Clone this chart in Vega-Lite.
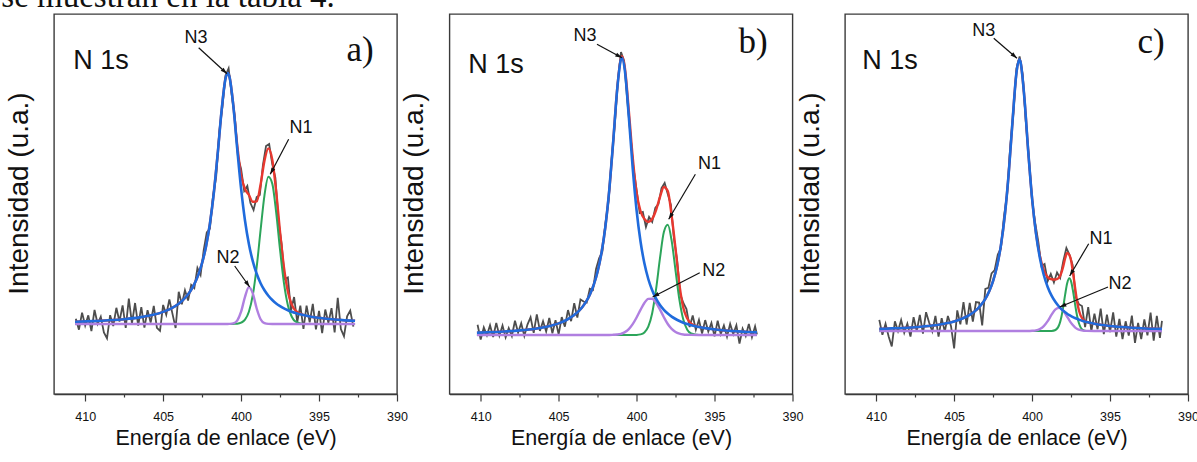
{
"$schema": "https://vega.github.io/schema/vega-lite/v6.json",
"padding": {"left": 1, "top": -19, "right": 0, "bottom": 0},
"background": "white",
"title": {"text": "se muestran en la tabla 4.", "anchor": "start", "frame": "bounds", "font": "Liberation Serif", "fontSize": 33, "fontWeight": "normal", "color": "#111111", "baseline": "alphabetic", "offset": -27, "dx": -3},
"data": {"values": [
{"p":"a","k":"f","E":410.65,"n3":72.2,"n1":70,"n2":70,"r":72.2},
{"p":"a","k":"f","E":409.5,"n3":72.9,"n1":70,"n2":70,"r":72.9},
{"p":"a","k":"f","E":408.5,"n3":73.7,"n1":70,"n2":70,"r":73.7},
{"p":"a","k":"f","E":407.5,"n3":74.8,"n1":70,"n2":70,"r":74.8},
{"p":"a","k":"f","E":406.5,"n3":76.6,"n1":70,"n2":70,"r":76.6},
{"p":"a","k":"f","E":405.5,"n3":79.7,"n1":70,"n2":70,"r":79.7},
{"p":"a","k":"f","E":405,"n3":82.1,"n1":70,"n2":70,"r":82.1},
{"p":"a","k":"f","E":404.5,"n3":85.4,"n1":70,"n2":70,"r":85.4},
{"p":"a","k":"f","E":404,"n3":90.2,"n1":70,"n2":70,"r":90.2},
{"p":"a","k":"f","E":403.5,"n3":97.7,"n1":70,"n2":70,"r":97.7},
{"p":"a","k":"f","E":403.25,"n3":103,"n1":70,"n2":70,"r":103},
{"p":"a","k":"f","E":403,"n3":109.9,"n1":70,"n2":70,"r":109.9},
{"p":"a","k":"f","E":402.75,"n3":118.9,"n1":70,"n2":70,"r":118.9},
{"p":"a","k":"f","E":402.5,"n3":131.1,"n1":70,"n2":70,"r":131.1},
{"p":"a","k":"f","E":402.25,"n3":147.6,"n1":70,"n2":70,"r":147.6},
{"p":"a","k":"f","E":402,"n3":170.3,"n1":70,"n2":70,"r":170.3},
{"p":"a","k":"f","E":401.75,"n3":201,"n1":70,"n2":70,"r":201},
{"p":"a","k":"f","E":401.5,"n3":240.3,"n1":70,"n2":70,"r":240.3},
{"p":"a","k":"f","E":401.25,"n3":283.5,"n1":70,"n2":70,"r":283.5},
{"p":"a","k":"f","E":401,"n3":315.4,"n1":70,"n2":70,"r":315.4},
{"p":"a","k":"f","E":400.86,"n3":321,"n1":70,"n2":70,"r":321},
{"p":"a","k":"f","E":400.75,"n3":317.5,"n1":70,"n2":70.1,"r":317.6},
{"p":"a","k":"f","E":400.5,"n3":288.3,"n1":70.1,"n2":70.6,"r":289},
{"p":"a","k":"f","E":400.25,"n3":245.5,"n1":70.3,"n2":73.4,"r":249.2},
{"p":"a","k":"f","E":400,"n3":205.3,"n1":71.3,"n2":82.3,"r":218.9},
{"p":"a","k":"f","E":399.75,"n3":173.5,"n1":74.3,"n2":97.2,"r":205},
{"p":"a","k":"f","E":399.5,"n3":150,"n1":82.2,"n2":106.9,"r":199.1},
{"p":"a","k":"f","E":399.25,"n3":132.8,"n1":98.8,"n2":100.6,"r":192.2},
{"p":"a","k":"f","E":399,"n3":120.2,"n1":127,"n2":85.5,"r":192.7},
{"p":"a","k":"f","E":398.75,"n3":110.8,"n1":163.8,"n2":74.8,"r":209.4},
{"p":"a","k":"f","E":398.5,"n3":103.7,"n1":198.7,"n2":70.9,"r":233.3},
{"p":"a","k":"f","E":398.25,"n3":98.3,"n1":217.2,"n2":70.1,"r":245.6},
{"p":"a","k":"f","E":398,"n3":94,"n1":210.4,"n2":70,"r":234.4},
{"p":"a","k":"f","E":397.75,"n3":90.6,"n1":181.7,"n2":70,"r":202.3},
{"p":"a","k":"f","E":397.5,"n3":87.9,"n1":144,"n2":70,"r":161.9},
{"p":"a","k":"f","E":397.25,"n3":85.6,"n1":110.9,"n2":70,"r":126.5},
{"p":"a","k":"f","E":397,"n3":83.8,"n1":88.8,"n2":70,"r":102.6},
{"p":"a","k":"f","E":396.75,"n3":82.2,"n1":77.2,"n2":70,"r":89.4},
{"p":"a","k":"f","E":396.5,"n3":80.9,"n1":72.3,"n2":70,"r":83.2},
{"p":"a","k":"f","E":396,"n3":78.9,"n1":70.1,"n2":70,"r":79},
{"p":"a","k":"f","E":395.5,"n3":77.3,"n1":70,"n2":70,"r":77.3},
{"p":"a","k":"f","E":395,"n3":76.2,"n1":70,"n2":70,"r":76.2},
{"p":"a","k":"f","E":394.5,"n3":75.3,"n1":70,"n2":70,"r":75.3},
{"p":"a","k":"f","E":394,"n3":74.5,"n1":70,"n2":70,"r":74.5},
{"p":"a","k":"f","E":393.5,"n3":73.9,"n1":70,"n2":70,"r":73.9},
{"p":"a","k":"f","E":392.69,"n3":73.2,"n1":70,"n2":70,"r":73.2},
{"p":"b","k":"f","E":410.24,"n3":61.3,"n1":59,"n2":59,"r":61.3},
{"p":"b","k":"f","E":409.5,"n3":61.7,"n1":59,"n2":59,"r":61.7},
{"p":"b","k":"f","E":408.5,"n3":62.5,"n1":59,"n2":59,"r":62.5},
{"p":"b","k":"f","E":407.5,"n3":63.6,"n1":59,"n2":59,"r":63.6},
{"p":"b","k":"f","E":406.5,"n3":65.3,"n1":59,"n2":59,"r":65.3},
{"p":"b","k":"f","E":405.5,"n3":68.3,"n1":59,"n2":59,"r":68.3},
{"p":"b","k":"f","E":405,"n3":70.6,"n1":59,"n2":59,"r":70.6},
{"p":"b","k":"f","E":404.5,"n3":74,"n1":59,"n2":59,"r":74},
{"p":"b","k":"f","E":404,"n3":78.9,"n1":59,"n2":59,"r":78.9},
{"p":"b","k":"f","E":403.5,"n3":86.5,"n1":59,"n2":59,"r":86.5},
{"p":"b","k":"f","E":403.25,"n3":92.1,"n1":59,"n2":59,"r":92.1},
{"p":"b","k":"f","E":403,"n3":99.3,"n1":59,"n2":59,"r":99.3},
{"p":"b","k":"f","E":402.75,"n3":109.1,"n1":59,"n2":59,"r":109.1},
{"p":"b","k":"f","E":402.5,"n3":122.5,"n1":59,"n2":59,"r":122.5},
{"p":"b","k":"f","E":402.25,"n3":141.2,"n1":59,"n2":59,"r":141.2},
{"p":"b","k":"f","E":402,"n3":167.5,"n1":59,"n2":59,"r":167.5},
{"p":"b","k":"f","E":401.75,"n3":204.3,"n1":59,"n2":59,"r":204.3},
{"p":"b","k":"f","E":401.5,"n3":252.4,"n1":59,"n2":59.2,"r":252.6},
{"p":"b","k":"f","E":401.25,"n3":303.7,"n1":59,"n2":59.5,"r":304.2},
{"p":"b","k":"f","E":401,"n3":334.9,"n1":59,"n2":60.2,"r":336.1},
{"p":"b","k":"f","E":400.94,"n3":336.3,"n1":59,"n2":60.5,"r":337.8},
{"p":"b","k":"f","E":400.75,"n3":323.1,"n1":59,"n2":61.9,"r":326},
{"p":"b","k":"f","E":400.5,"n3":277.7,"n1":59,"n2":64.9,"r":283.6},
{"p":"b","k":"f","E":400.25,"n3":226.2,"n1":59,"n2":69.8,"r":237},
{"p":"b","k":"f","E":400,"n3":183.7,"n1":59.1,"n2":76.5,"r":201.3},
{"p":"b","k":"f","E":399.75,"n3":152.7,"n1":59.6,"n2":84.1,"r":183},
{"p":"b","k":"f","E":399.5,"n3":130.7,"n1":61.5,"n2":91,"r":175},
{"p":"b","k":"f","E":399.25,"n3":115,"n1":67.3,"n2":95.1,"r":172},
{"p":"b","k":"f","E":399,"n3":103.7,"n1":80.8,"n2":95.2,"r":175},
{"p":"b","k":"f","E":398.75,"n3":95.3,"n1":104.8,"n2":91.2,"r":184},
{"p":"b","k":"f","E":398.5,"n3":89,"n1":135.8,"n2":84.4,"r":197},
{"p":"b","k":"f","E":398.25,"n3":84.2,"n1":162,"n2":76.8,"r":207},
{"p":"b","k":"f","E":398,"n3":80.4,"n1":169.2,"n2":70,"r":203},
{"p":"b","k":"f","E":397.75,"n3":77.4,"n1":153.1,"n2":65.1,"r":178},
{"p":"b","k":"f","E":397.5,"n3":75,"n1":123.2,"n2":62,"r":145},
{"p":"b","k":"f","E":397.25,"n3":73,"n1":93.9,"n2":60.3,"r":109},
{"p":"b","k":"f","E":397,"n3":71.3,"n1":74.2,"n2":59.5,"r":86},
{"p":"b","k":"f","E":396.75,"n3":70,"n1":64.3,"n2":59.2,"r":75.5},
{"p":"b","k":"f","E":396.5,"n3":68.8,"n1":60.5,"n2":59.1,"r":70.4},
{"p":"b","k":"f","E":396,"n3":67,"n1":59.1,"n2":59,"r":67.1},
{"p":"b","k":"f","E":395.5,"n3":65.6,"n1":59,"n2":59,"r":65.6},
{"p":"b","k":"f","E":395,"n3":64.6,"n1":59,"n2":59,"r":64.6},
{"p":"b","k":"f","E":394.5,"n3":63.7,"n1":59,"n2":59,"r":63.7},
{"p":"b","k":"f","E":394,"n3":63.1,"n1":59,"n2":59,"r":63.1},
{"p":"b","k":"f","E":393.5,"n3":62.6,"n1":59,"n2":59,"r":62.6},
{"p":"b","k":"f","E":392.28,"n3":61.6,"n1":59,"n2":59,"r":61.6},
{"p":"c","k":"f","E":409.8,"n3":65.1,"n1":63,"n2":63,"r":65.1},
{"p":"c","k":"f","E":409,"n3":65.6,"n1":63,"n2":63,"r":65.6},
{"p":"c","k":"f","E":408,"n3":66.3,"n1":63,"n2":63,"r":66.3},
{"p":"c","k":"f","E":407,"n3":67.5,"n1":63,"n2":63,"r":67.5},
{"p":"c","k":"f","E":406,"n3":69.3,"n1":63,"n2":63,"r":69.3},
{"p":"c","k":"f","E":405.5,"n3":70.7,"n1":63,"n2":63,"r":70.7},
{"p":"c","k":"f","E":405,"n3":72.6,"n1":63,"n2":63,"r":72.6},
{"p":"c","k":"f","E":404.5,"n3":75.3,"n1":63,"n2":63,"r":75.3},
{"p":"c","k":"f","E":404,"n3":79.2,"n1":63,"n2":63,"r":79.2},
{"p":"c","k":"f","E":403.5,"n3":85.2,"n1":63,"n2":63,"r":85.2},
{"p":"c","k":"f","E":403.25,"n3":89.6,"n1":63,"n2":63,"r":89.6},
{"p":"c","k":"f","E":403,"n3":95.2,"n1":63,"n2":63,"r":95.2},
{"p":"c","k":"f","E":402.75,"n3":102.8,"n1":63,"n2":63,"r":102.8},
{"p":"c","k":"f","E":402.5,"n3":113.2,"n1":63,"n2":63,"r":113.2},
{"p":"c","k":"f","E":402.25,"n3":127.8,"n1":63,"n2":63,"r":127.8},
{"p":"c","k":"f","E":402,"n3":148.6,"n1":63,"n2":63,"r":148.6},
{"p":"c","k":"f","E":401.75,"n3":178.6,"n1":63,"n2":63,"r":178.6},
{"p":"c","k":"f","E":401.5,"n3":220.7,"n1":63,"n2":63,"r":220.7},
{"p":"c","k":"f","E":401.25,"n3":273.8,"n1":63,"n2":63,"r":273.8},
{"p":"c","k":"f","E":401,"n3":321.6,"n1":63,"n2":63,"r":321.6},
{"p":"c","k":"f","E":400.82,"n3":334.7,"n1":63,"n2":63,"r":334.7},
{"p":"c","k":"f","E":400.75,"n3":332.6,"n1":63,"n2":63,"r":332.6},
{"p":"c","k":"f","E":400.5,"n3":297.2,"n1":63,"n2":63,"r":297.2},
{"p":"c","k":"f","E":400.25,"n3":243.2,"n1":63,"n2":63,"r":243.2},
{"p":"c","k":"f","E":400,"n3":195.5,"n1":63,"n2":63.2,"r":195.7},
{"p":"c","k":"f","E":399.75,"n3":160.4,"n1":63,"n2":63.6,"r":161},
{"p":"c","k":"f","E":399.5,"n3":136,"n1":63,"n2":65,"r":138},
{"p":"c","k":"f","E":399.25,"n3":119,"n1":63,"n2":67.9,"r":123.9},
{"p":"c","k":"f","E":399,"n3":107,"n1":63,"n2":72.9,"r":116.9},
{"p":"c","k":"f","E":398.75,"n3":98.3,"n1":63.1,"n2":79.3,"r":114.7},
{"p":"c","k":"f","E":398.5,"n3":91.9,"n1":64,"n2":84.6,"r":114.5},
{"p":"c","k":"f","E":398.25,"n3":87,"n1":69.6,"n2":86.2,"r":116.8},
{"p":"c","k":"f","E":398.125,"n3":85,"n1":76.8,"n2":85.3,"r":121.1},
{"p":"c","k":"f","E":398,"n3":83.2,"n1":87.4,"n2":83.2,"r":127.8},
{"p":"c","k":"f","E":397.875,"n3":81.7,"n1":99.9,"n2":80.4,"r":136},
{"p":"c","k":"f","E":397.75,"n3":80.3,"n1":110.7,"n2":77.2,"r":141},
{"p":"c","k":"f","E":397.61,"n3":78.9,"n1":115.7,"n2":73.7,"r":139},
{"p":"c","k":"f","E":397.5,"n3":77.9,"n1":112.6,"n2":71.1,"r":133.6},
{"p":"c","k":"f","E":397.375,"n3":76.9,"n1":102.9,"n2":68.7,"r":121.5},
{"p":"c","k":"f","E":397.25,"n3":76,"n1":90.4,"n2":66.7,"r":107.1},
{"p":"c","k":"f","E":397.125,"n3":75.2,"n1":79,"n2":65.3,"r":93.5},
{"p":"c","k":"f","E":397,"n3":74.4,"n1":71,"n2":64.4,"r":83.8},
{"p":"c","k":"f","E":396.75,"n3":73.1,"n1":64.2,"n2":63.4,"r":74.7},
{"p":"c","k":"f","E":396.5,"n3":72,"n1":63.1,"n2":63.1,"r":72.2},
{"p":"c","k":"f","E":396,"n3":70.3,"n1":63,"n2":63,"r":70.3},
{"p":"c","k":"f","E":395.5,"n3":69,"n1":63,"n2":63,"r":69},
{"p":"c","k":"f","E":395,"n3":68,"n1":63,"n2":63,"r":68},
{"p":"c","k":"f","E":394.5,"n3":67.3,"n1":63,"n2":63,"r":67.3},
{"p":"c","k":"f","E":394,"n3":66.7,"n1":63,"n2":63,"r":66.7},
{"p":"c","k":"f","E":393,"n3":65.8,"n1":63,"n2":63,"r":65.8},
{"p":"c","k":"f","E":392,"n3":65.2,"n1":63,"n2":63,"r":65.2},
{"p":"c","k":"f","E":391.67,"n3":65.1,"n1":63,"n2":63,"r":65.1},
{"p":"a","k":"e","E":410.6,"I":75.2},{"p":"a","k":"e","E":410.4,"I":64.3},{"p":"a","k":"e","E":410.2,"I":81.4},{"p":"a","k":"e","E":410.0,"I":68.5},
{"p":"a","k":"e","E":409.8,"I":78.7},{"p":"a","k":"e","E":409.6,"I":62.8},{"p":"a","k":"e","E":409.4,"I":84},{"p":"a","k":"e","E":409.2,"I":70.1},
{"p":"a","k":"e","E":409.0,"I":77.3},{"p":"a","k":"e","E":408.8,"I":61.5},{"p":"a","k":"e","E":408.6,"I":55.6},{"p":"a","k":"e","E":408.4,"I":78.8},
{"p":"a","k":"e","E":408.2,"I":68},{"p":"a","k":"e","E":408.0,"I":86.2},{"p":"a","k":"e","E":407.8,"I":72.5},{"p":"a","k":"e","E":407.6,"I":88.7},
{"p":"a","k":"e","E":407.4,"I":66},{"p":"a","k":"e","E":407.2,"I":95.3},{"p":"a","k":"e","E":407.0,"I":70.6},{"p":"a","k":"e","E":406.8,"I":91},
{"p":"a","k":"e","E":406.6,"I":68.4},{"p":"a","k":"e","E":406.4,"I":86.8},{"p":"a","k":"e","E":406.2,"I":66.3},{"p":"a","k":"e","E":406.0,"I":83.9},
{"p":"a","k":"e","E":405.8,"I":71.5},{"p":"a","k":"e","E":405.6,"I":88.2},{"p":"a","k":"e","E":405.4,"I":66.2},{"p":"a","k":"e","E":405.2,"I":63.1},
{"p":"a","k":"e","E":405.0,"I":89.1},{"p":"a","k":"e","E":404.8,"I":79.3},{"p":"a","k":"e","E":404.6,"I":94.6},{"p":"a","k":"e","E":404.4,"I":80.1},
{"p":"a","k":"e","E":404.2,"I":66},{"p":"a","k":"e","E":404.0,"I":102.2},{"p":"a","k":"e","E":403.8,"I":89.8},{"p":"a","k":"e","E":403.6,"I":103.8},
{"p":"a","k":"e","E":403.4,"I":93.5},{"p":"a","k":"e","E":403.2,"I":109.2},{"p":"a","k":"e","E":403.0,"I":105.9},{"p":"a","k":"e","E":402.8,"I":126},
{"p":"a","k":"e","E":402.6,"I":119},{"p":"a","k":"e","E":402.4,"I":143.5},{"p":"a","k":"e","E":402.2,"I":161.5},{"p":"a","k":"e","E":402.0,"I":165.3},
{"p":"a","k":"e","E":401.8,"I":198},{"p":"a","k":"e","E":401.6,"I":217},{"p":"a","k":"e","E":401.4,"I":262},{"p":"a","k":"e","E":401.2,"I":287},
{"p":"a","k":"e","E":401.0,"I":318.4},{"p":"a","k":"e","E":400.8,"I":325.5},{"p":"a","k":"e","E":400.6,"I":299},{"p":"a","k":"e","E":400.4,"I":277},
{"p":"a","k":"e","E":400.2,"I":237},{"p":"a","k":"e","E":400.0,"I":225},{"p":"a","k":"e","E":399.8,"I":203},{"p":"a","k":"e","E":399.6,"I":208},
{"p":"a","k":"e","E":399.4,"I":191},{"p":"a","k":"e","E":399.2,"I":184},{"p":"a","k":"e","E":399.0,"I":197},{"p":"a","k":"e","E":398.8,"I":199},
{"p":"a","k":"e","E":398.6,"I":229},{"p":"a","k":"e","E":398.4,"I":248},{"p":"a","k":"e","E":398.2,"I":250},{"p":"a","k":"e","E":398.0,"I":230},
{"p":"a","k":"e","E":397.8,"I":216},{"p":"a","k":"e","E":397.6,"I":173},{"p":"a","k":"e","E":397.4,"I":150},{"p":"a","k":"e","E":397.2,"I":115},
{"p":"a","k":"e","E":397.0,"I":116.6},{"p":"a","k":"e","E":396.8,"I":83.5},{"p":"a","k":"e","E":396.6,"I":97},{"p":"a","k":"e","E":396.4,"I":72},
{"p":"a","k":"e","E":396.2,"I":88.3},{"p":"a","k":"e","E":396.0,"I":65},{"p":"a","k":"e","E":395.8,"I":88.3},{"p":"a","k":"e","E":395.6,"I":71.6},
{"p":"a","k":"e","E":395.4,"I":90.1},{"p":"a","k":"e","E":395.2,"I":64.6},{"p":"a","k":"e","E":395.0,"I":83.2},{"p":"a","k":"e","E":394.8,"I":60.8},
{"p":"a","k":"e","E":394.6,"I":84.5},{"p":"a","k":"e","E":394.4,"I":71.1},{"p":"a","k":"e","E":394.2,"I":85.8},{"p":"a","k":"e","E":394.0,"I":61.5},
{"p":"a","k":"e","E":393.8,"I":96.2},{"p":"a","k":"e","E":393.6,"I":65},{"p":"a","k":"e","E":393.4,"I":57.8},{"p":"a","k":"e","E":393.2,"I":77.6},
{"p":"a","k":"e","E":393.0,"I":83.4},{"p":"a","k":"e","E":392.8,"I":67.3},
{"p":"b","k":"e","E":410.2,"I":69.3},{"p":"b","k":"e","E":410.0,"I":54.4},{"p":"b","k":"e","E":409.8,"I":66.5},{"p":"b","k":"e","E":409.6,"I":58.7},
{"p":"b","k":"e","E":409.4,"I":68.8},{"p":"b","k":"e","E":409.2,"I":57},{"p":"b","k":"e","E":409.0,"I":71.1},{"p":"b","k":"e","E":408.8,"I":58.3},
{"p":"b","k":"e","E":408.6,"I":68.4},{"p":"b","k":"e","E":408.4,"I":56.6},{"p":"b","k":"e","E":408.2,"I":65.8},{"p":"b","k":"e","E":408.0,"I":58},
{"p":"b","k":"e","E":407.8,"I":73.3},{"p":"b","k":"e","E":407.6,"I":61.5},{"p":"b","k":"e","E":407.4,"I":70.8},{"p":"b","k":"e","E":407.2,"I":58.1},
{"p":"b","k":"e","E":407.0,"I":69.4},{"p":"b","k":"e","E":406.8,"I":76.8},{"p":"b","k":"e","E":406.6,"I":61.1},{"p":"b","k":"e","E":406.4,"I":79.6},
{"p":"b","k":"e","E":406.2,"I":63.1},{"p":"b","k":"e","E":406.0,"I":72.7},{"p":"b","k":"e","E":405.8,"I":62.4},{"p":"b","k":"e","E":405.6,"I":76},
{"p":"b","k":"e","E":405.4,"I":60.8},{"p":"b","k":"e","E":405.2,"I":73.7},{"p":"b","k":"e","E":405.0,"I":59.6},{"p":"b","k":"e","E":404.8,"I":76.9},
{"p":"b","k":"e","E":404.6,"I":67.3},{"p":"b","k":"e","E":404.4,"I":83.9},{"p":"b","k":"e","E":404.2,"I":72.8},{"p":"b","k":"e","E":404.0,"I":90.9},
{"p":"b","k":"e","E":403.8,"I":76.5},{"p":"b","k":"e","E":403.6,"I":94.6},{"p":"b","k":"e","E":403.4,"I":92.5},{"p":"b","k":"e","E":403.2,"I":91.4},
{"p":"b","k":"e","E":403.0,"I":105.3},{"p":"b","k":"e","E":402.8,"I":104},{"p":"b","k":"e","E":402.6,"I":125},{"p":"b","k":"e","E":402.4,"I":136},
{"p":"b","k":"e","E":402.2,"I":142},{"p":"b","k":"e","E":402.0,"I":170.5},{"p":"b","k":"e","E":401.8,"I":193},{"p":"b","k":"e","E":401.6,"I":235},
{"p":"b","k":"e","E":401.4,"I":269},{"p":"b","k":"e","E":401.2,"I":313},{"p":"b","k":"e","E":401.0,"I":342},{"p":"b","k":"e","E":400.8,"I":333},
{"p":"b","k":"e","E":400.6,"I":294},{"p":"b","k":"e","E":400.4,"I":260},{"p":"b","k":"e","E":400.2,"I":226},{"p":"b","k":"e","E":400.0,"I":204},
{"p":"b","k":"e","E":399.8,"I":181},{"p":"b","k":"e","E":399.6,"I":182},{"p":"b","k":"e","E":399.4,"I":167},{"p":"b","k":"e","E":399.2,"I":177},
{"p":"b","k":"e","E":399.0,"I":172},{"p":"b","k":"e","E":398.8,"I":186},{"p":"b","k":"e","E":398.6,"I":190},{"p":"b","k":"e","E":398.4,"I":206},
{"p":"b","k":"e","E":398.2,"I":211},{"p":"b","k":"e","E":398.0,"I":200},{"p":"b","k":"e","E":397.8,"I":189},{"p":"b","k":"e","E":397.6,"I":155},
{"p":"b","k":"e","E":397.4,"I":134},{"p":"b","k":"e","E":397.2,"I":100},{"p":"b","k":"e","E":397.0,"I":91},{"p":"b","k":"e","E":396.8,"I":85},
{"p":"b","k":"e","E":396.6,"I":67},{"p":"b","k":"e","E":396.4,"I":78.5},{"p":"b","k":"e","E":396.2,"I":64.2},{"p":"b","k":"e","E":396.0,"I":74.1},
{"p":"b","k":"e","E":395.8,"I":60.5},{"p":"b","k":"e","E":395.6,"I":73.9},{"p":"b","k":"e","E":395.4,"I":62.4},{"p":"b","k":"e","E":395.2,"I":71},
{"p":"b","k":"e","E":395.0,"I":57.6},{"p":"b","k":"e","E":394.8,"I":73.2},{"p":"b","k":"e","E":394.6,"I":59.9},{"p":"b","k":"e","E":394.4,"I":68.6},
{"p":"b","k":"e","E":394.2,"I":57.3},{"p":"b","k":"e","E":394.0,"I":70.1},{"p":"b","k":"e","E":393.8,"I":59.9},{"p":"b","k":"e","E":393.6,"I":68.7},
{"p":"b","k":"e","E":393.4,"I":50.5},{"p":"b","k":"e","E":393.2,"I":65.3},{"p":"b","k":"e","E":393.0,"I":58.1},{"p":"b","k":"e","E":392.8,"I":70},
{"p":"b","k":"e","E":392.6,"I":56.8},{"p":"b","k":"e","E":392.4,"I":67.7},{"p":"b","k":"e","E":392.28,"I":59.6},
{"p":"c","k":"e","E":409.8,"I":74.1},{"p":"c","k":"e","E":409.6,"I":59.2},{"p":"c","k":"e","E":409.4,"I":70.3},{"p":"c","k":"e","E":409.2,"I":57.5},
{"p":"c","k":"e","E":409.0,"I":47.6},{"p":"c","k":"e","E":408.8,"I":72.7},{"p":"c","k":"e","E":408.6,"I":62.9},{"p":"c","k":"e","E":408.4,"I":74},
{"p":"c","k":"e","E":408.2,"I":61.2},{"p":"c","k":"e","E":408.0,"I":70.3},{"p":"c","k":"e","E":407.8,"I":57.5},{"p":"c","k":"e","E":407.6,"I":76.8},
{"p":"c","k":"e","E":407.4,"I":63},{"p":"c","k":"e","E":407.2,"I":79.2},{"p":"c","k":"e","E":407.0,"I":60.5},{"p":"c","k":"e","E":406.8,"I":81.8},
{"p":"c","k":"e","E":406.6,"I":71.2},{"p":"c","k":"e","E":406.4,"I":62.6},{"p":"c","k":"e","E":406.2,"I":78},{"p":"c","k":"e","E":406.0,"I":57.3},
{"p":"c","k":"e","E":405.8,"I":75.9},{"p":"c","k":"e","E":405.6,"I":62.4},{"p":"c","k":"e","E":405.4,"I":78.1},{"p":"c","k":"e","E":405.2,"I":67.8},
{"p":"c","k":"e","E":405.0,"I":45.6},{"p":"c","k":"e","E":404.8,"I":83.6},{"p":"c","k":"e","E":404.6,"I":69.6},{"p":"c","k":"e","E":404.4,"I":92},
{"p":"c","k":"e","E":404.2,"I":69.5},{"p":"c","k":"e","E":404.0,"I":91.2},{"p":"c","k":"e","E":403.8,"I":72.4},{"p":"c","k":"e","E":403.6,"I":92},
{"p":"c","k":"e","E":403.4,"I":91.4},{"p":"c","k":"e","E":403.2,"I":68.6},{"p":"c","k":"e","E":403.0,"I":105.2},{"p":"c","k":"e","E":402.8,"I":106.2},
{"p":"c","k":"e","E":402.6,"I":120.6},{"p":"c","k":"e","E":402.4,"I":124},{"p":"c","k":"e","E":402.2,"I":139.5},{"p":"c","k":"e","E":402.0,"I":145.6},
{"p":"c","k":"e","E":401.8,"I":178},{"p":"c","k":"e","E":401.6,"I":200},{"p":"c","k":"e","E":401.4,"I":248},{"p":"c","k":"e","E":401.2,"I":281},
{"p":"c","k":"e","E":401.0,"I":325.6},{"p":"c","k":"e","E":400.8,"I":337.6},{"p":"c","k":"e","E":400.6,"I":319},{"p":"c","k":"e","E":400.4,"I":272},
{"p":"c","k":"e","E":400.2,"I":235},{"p":"c","k":"e","E":400.0,"I":193.7},{"p":"c","k":"e","E":399.8,"I":171},{"p":"c","k":"e","E":399.6,"I":152},
{"p":"c","k":"e","E":399.4,"I":128},{"p":"c","k":"e","E":399.2,"I":130},{"p":"c","k":"e","E":399.0,"I":112.9},{"p":"c","k":"e","E":398.8,"I":120},
{"p":"c","k":"e","E":398.6,"I":111.5},{"p":"c","k":"e","E":398.4,"I":121.5},{"p":"c","k":"e","E":398.2,"I":116},{"p":"c","k":"e","E":398.0,"I":132.8},
{"p":"c","k":"e","E":397.8,"I":146},{"p":"c","k":"e","E":397.6,"I":139.3},{"p":"c","k":"e","E":397.4,"I":129},{"p":"c","k":"e","E":397.2,"I":97},
{"p":"c","k":"e","E":397.0,"I":89.8},{"p":"c","k":"e","E":396.8,"I":88},{"p":"c","k":"e","E":396.6,"I":67},{"p":"c","k":"e","E":396.4,"I":86.8},
{"p":"c","k":"e","E":396.2,"I":63},{"p":"c","k":"e","E":396.0,"I":80.3},{"p":"c","k":"e","E":395.8,"I":64.8},{"p":"c","k":"e","E":395.6,"I":85.3},
{"p":"c","k":"e","E":395.4,"I":59.8},{"p":"c","k":"e","E":395.2,"I":79.4},{"p":"c","k":"e","E":395.0,"I":62},{"p":"c","k":"e","E":394.8,"I":81.7},
{"p":"c","k":"e","E":394.6,"I":57.4},{"p":"c","k":"e","E":394.4,"I":75.2},{"p":"c","k":"e","E":394.2,"I":54.9},{"p":"c","k":"e","E":394.0,"I":72.7},
{"p":"c","k":"e","E":393.8,"I":58.5},{"p":"c","k":"e","E":393.6,"I":78.3},{"p":"c","k":"e","E":393.4,"I":51.1},{"p":"c","k":"e","E":393.2,"I":71},
{"p":"c","k":"e","E":393.0,"I":54.8},{"p":"c","k":"e","E":392.8,"I":74.7},{"p":"c","k":"e","E":392.6,"I":58.6},{"p":"c","k":"e","E":392.4,"I":81.5},
{"p":"c","k":"e","E":392.2,"I":53.4},{"p":"c","k":"e","E":392.0,"I":78.2},{"p":"c","k":"e","E":391.8,"I":56.1},{"p":"c","k":"e","E":391.67,"I":73.1},
{"p":"a","k":"s","E":408.99,"I":325,"t":"N 1s"},
{"p":"b","k":"s","E":409.02,"I":321.3,"t":"N 1s"},
{"p":"c","k":"s","E":409.11,"I":324.7,"t":"N 1s"},
{"p":"a","k":"l","E":392.37,"I":333,"t":"a)"},
{"p":"b","k":"l","E":392.53,"I":341.3,"t":"b)"},
{"p":"c","k":"l","E":392.37,"I":341.3,"t":"c)"},
{"p":"a","k":"n","E":402.89,"I":351.3,"t":"N3"},
{"p":"a","k":"n","E":396.16,"I":261.3,"t":"N1"},
{"p":"a","k":"n","E":400.84,"I":131.3,"t":"N2"},
{"p":"b","k":"n","E":403.31,"I":353,"t":"N3"},
{"p":"b","k":"n","E":395.32,"I":224.7,"t":"N1"},
{"p":"b","k":"n","E":395.05,"I":118,"t":"N2"},
{"p":"c","k":"n","E":403.10,"I":358,"t":"N3"},
{"p":"c","k":"n","E":395.58,"I":149.7,"t":"N1"},
{"p":"c","k":"n","E":394.36,"I":104.7,"t":"N2"},
{"p":"a","k":"a","E":402.72,"I":346.3,"E2":400.90,"I2":320.3},
{"p":"a","k":"a","E":396.95,"I":254.7,"E2":398.13,"I2":219.7},
{"p":"a","k":"a","E":400.41,"I":128,"E2":399.45,"I2":107},
{"p":"b","k":"a","E":402.54,"I":349.7,"E2":400.94,"I2":336.3},
{"p":"b","k":"a","E":396.23,"I":219.7,"E2":397.94,"I2":174.7},
{"p":"b","k":"a","E":395.95,"I":121.3,"E2":398.97,"I2":97},
{"p":"c","k":"a","E":402.46,"I":355.7,"E2":400.97,"I2":335.7},
{"p":"c","k":"a","E":396.37,"I":150.3,"E2":397.59,"I2":118},
{"p":"c","k":"a","E":395.13,"I":107,"E2":398.23,"I2":87}
]},
"facet": {"column": {"field": "p", "type": "nominal", "title": null, "header": {"labels": false, "labelPadding": 0, "titlePadding": 0}}},
"spacing": 52.5,
"bounds": "flush",
"resolve": {"scale": {"x": "independent", "y": "independent"}, "axis": {"x": "independent", "y": "independent"}},
"spec": {
"width": 343,
"height": 380,
"layer": [
{"transform": [{"filter": "datum.k == 'e'"}],
 "mark": {"type": "line", "color": "#4d4d4d", "strokeWidth": 1.8},
 "encoding": {
  "x": {"field": "E", "type": "quantitative", "title": "Energía de enlace (eV)", "scale": {"domain": [390, 412], "reverse": true, "nice": false, "zero": false},
   "axis": {"title": "Energía de enlace (eV)", "values": [410, 407.5, 405, 402.5, 400, 397.5, 395, 392.5, 390], "labelExpr": "datum.value % 5 == 0 ? datum.label : ''", "tickSize": {"condition": {"test": "datum.value % 5 != 0", "value": 3}, "value": 7}, "labelFlush": false, "labelOverlap": false, "grid": false, "domainColor": "#3a3a3a", "domainWidth": 1.4, "tickColor": "#3a3a3a", "tickWidth": 1.2, "labelFont": "Liberation Sans, Arial", "labelFontSize": 12.5, "labelColor": "#111111", "labelPadding": 9, "titleFont": "Liberation Sans, Arial", "titleFontSize": 21.5, "titleFontWeight": "normal", "titleColor": "#111111", "titlePadding": 5}},
  "y": {"field": "I", "type": "quantitative", "title": "Intensidad (u.a.)", "scale": {"domain": [0, 380], "nice": false, "zero": false},
   "axis": {"title": "Intensidad (u.a.)", "labels": false, "ticks": false, "domain": false, "grid": false, "titleFont": "Liberation Sans, Arial", "titleFontSize": 28, "titleFontWeight": "normal", "titleColor": "#111111", "titlePadding": 21, "titleY": 179}}
 }},
{"transform": [{"filter": "datum.k == 'f'"}],
 "mark": {"type": "line", "color": "#e8382f", "strokeWidth": 2.4, "interpolate": "monotone"},
 "encoding": {"x": {"field": "E", "type": "quantitative", "title": "Energía de enlace (eV)", "scale": {"domain": [390, 412], "reverse": true, "nice": false, "zero": false}},
  "y": {"field": "r", "type": "quantitative", "title": "Intensidad (u.a.)", "scale": {"domain": [0, 380], "nice": false, "zero": false}}}},
{"transform": [{"filter": "datum.k == 'f'"}],
 "mark": {"type": "line", "color": "#2ca55a", "strokeWidth": 2, "interpolate": "monotone"},
 "encoding": {"x": {"field": "E", "type": "quantitative", "title": "Energía de enlace (eV)", "scale": {"domain": [390, 412], "reverse": true, "nice": false, "zero": false}},
  "y": {"field": "n1", "type": "quantitative", "title": "Intensidad (u.a.)", "scale": {"domain": [0, 380], "nice": false, "zero": false}}}},
{"transform": [{"filter": "datum.k == 'f'"}],
 "mark": {"type": "line", "color": "#b07fe0", "strokeWidth": 2.4, "interpolate": "monotone"},
 "encoding": {"x": {"field": "E", "type": "quantitative", "title": "Energía de enlace (eV)", "scale": {"domain": [390, 412], "reverse": true, "nice": false, "zero": false}},
  "y": {"field": "n2", "type": "quantitative", "title": "Intensidad (u.a.)", "scale": {"domain": [0, 380], "nice": false, "zero": false}}}},
{"transform": [{"filter": "datum.k == 'f'"}],
 "mark": {"type": "line", "color": "#1f6bdc", "strokeWidth": 2.6, "interpolate": "monotone"},
 "encoding": {"x": {"field": "E", "type": "quantitative", "title": "Energía de enlace (eV)", "scale": {"domain": [390, 412], "reverse": true, "nice": false, "zero": false}},
  "y": {"field": "n3", "type": "quantitative", "title": "Intensidad (u.a.)", "scale": {"domain": [0, 380], "nice": false, "zero": false}}}},
{"transform": [{"filter": "datum.k == 'a'"}],
 "mark": {"type": "rule", "color": "#111111", "strokeWidth": 1.2},
 "encoding": {"x": {"field": "E", "type": "quantitative", "title": "Energía de enlace (eV)", "scale": {"domain": [390, 412], "reverse": true, "nice": false, "zero": false}},
  "y": {"field": "I", "type": "quantitative", "title": "Intensidad (u.a.)", "scale": {"domain": [0, 380], "nice": false, "zero": false}},
  "x2": {"field": "E2"}, "y2": {"field": "I2"}}},
{"transform": [{"filter": "datum.k == 'a'"}, {"calculate": "atan2(-(datum.E2 - datum.E) * 15.59, datum.I2 - datum.I) * 180 / PI", "as": "ang"}],
 "mark": {"type": "point", "shape": "M0,0L-0.45,1.4L0.45,1.4Z", "filled": true, "color": "#111111", "size": 90, "opacity": 1, "strokeWidth": 0},
 "encoding": {"x": {"field": "E2", "type": "quantitative", "title": "Energía de enlace (eV)", "scale": {"domain": [390, 412], "reverse": true, "nice": false, "zero": false}},
  "y": {"field": "I2", "type": "quantitative", "title": "Intensidad (u.a.)", "scale": {"domain": [0, 380], "nice": false, "zero": false}},
  "angle": {"field": "ang", "type": "quantitative", "scale": null}}},
{"transform": [{"filter": "datum.k == 's'"}],
 "mark": {"type": "text", "font": "Liberation Sans, Arial", "fontSize": 27, "color": "#111111", "align": "center", "baseline": "alphabetic"},
 "encoding": {"x": {"field": "E", "type": "quantitative", "title": "Energía de enlace (eV)", "scale": {"domain": [390, 412], "reverse": true, "nice": false, "zero": false}},
  "y": {"field": "I", "type": "quantitative", "title": "Intensidad (u.a.)", "scale": {"domain": [0, 380], "nice": false, "zero": false}},
  "text": {"field": "t"}}},
{"transform": [{"filter": "datum.k == 'l'"}],
 "mark": {"type": "text", "font": "Liberation Serif, Times New Roman", "fontSize": 35, "color": "#111111", "align": "center", "baseline": "alphabetic"},
 "encoding": {"x": {"field": "E", "type": "quantitative", "title": "Energía de enlace (eV)", "scale": {"domain": [390, 412], "reverse": true, "nice": false, "zero": false}},
  "y": {"field": "I", "type": "quantitative", "title": "Intensidad (u.a.)", "scale": {"domain": [0, 380], "nice": false, "zero": false}},
  "text": {"field": "t"}}},
{"transform": [{"filter": "datum.k == 'n'"}],
 "mark": {"type": "text", "font": "Liberation Sans, Arial", "fontSize": 18, "color": "#111111", "align": "center", "baseline": "alphabetic"},
 "encoding": {"x": {"field": "E", "type": "quantitative", "title": "Energía de enlace (eV)", "scale": {"domain": [390, 412], "reverse": true, "nice": false, "zero": false}},
  "y": {"field": "I", "type": "quantitative", "title": "Intensidad (u.a.)", "scale": {"domain": [0, 380], "nice": false, "zero": false}},
  "text": {"field": "t"}}}
]
},
"config": {"view": {"stroke": "#3a3a3a", "strokeWidth": 1.4}}
}
